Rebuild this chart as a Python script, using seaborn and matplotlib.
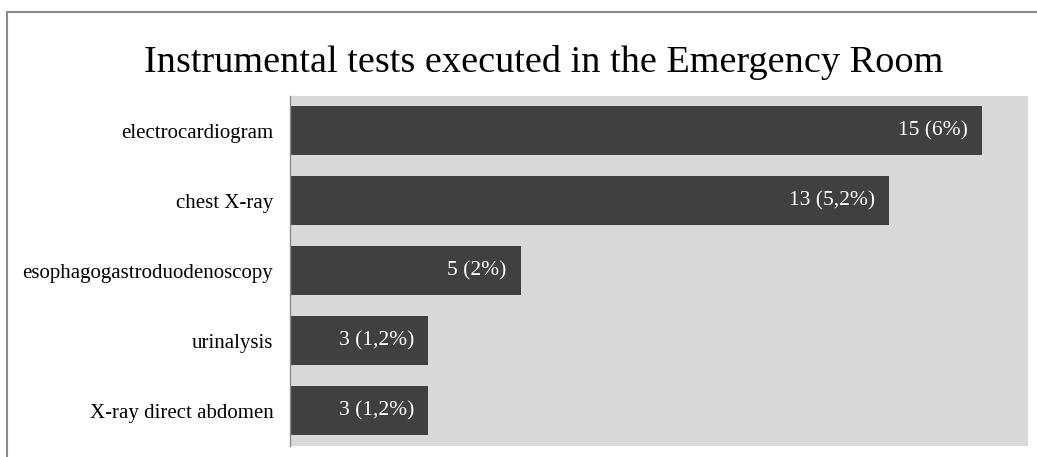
import matplotlib
matplotlib.use("Agg")
import matplotlib.pyplot as plt
import seaborn as sns
import pandas as pd
from matplotlib.patches import Rectangle

categories = ["electrocardiogram", "chest X-ray", "esophagogastroduodenoscopy",
              "urinalysis", "X-ray direct abdomen"]
counts = [15, 13, 5, 3, 3]
bar_labels = ["15 (6%)", "13 (5,2%)", "5 (2%)", "3 (1,2%)", "3 (1,2%)"]
title = "Instrumental tests executed in the Emergency Room"

sns.set_theme(style="white")
plt.rcParams["font.family"] = ["Liberation Serif", "DejaVu Serif"]
plt.rcParams["text.color"] = "black"

df = pd.DataFrame({"test": categories, "count": counts})

fig = plt.figure(figsize=(10.37, 4.57), dpi=100)
ax = fig.add_axes([290/1037, 11.3/457, (1027.7-290)/1037, (445.7-96)/457])
ax.set_facecolor("#d9d9d9")

sns.barplot(data=df, y="test", x="count", orient="h", color="#404040",
            saturation=1, width=0.7, linewidth=0, edgecolor="none", ax=ax)

for p, lab in zip(ax.patches, bar_labels):
    ax.annotate(lab, (p.get_x() + p.get_width(), p.get_y() + p.get_height()/2),
                xytext=(-10, 0), textcoords="offset points",
                ha="right", va="center", color="white", fontsize=15.5)

ax.set_xlim(0, 16)
ax.set_ylim(4.5, -0.5)
ax.set_xlabel("")
ax.set_ylabel("")
ax.set_xticks([])
ax.tick_params(axis="y", length=0, pad=12, labelsize=15, labelcolor="black")
for s in ["top", "right", "bottom"]:
    ax.spines[s].set_visible(False)
ax.spines["left"].set_color("#8c8c8c")
ax.spines["left"].set_linewidth(1)

fig.text(544/1037, 1 - 72/457, title, ha="center", va="baseline", fontsize=27.5,
         color="black")

border = Rectangle((7/1037, -0.1), 1.2, 1 - 12/457 + 0.1, transform=fig.transFigure,
                   fill=False, edgecolor="#8a8a8a", linewidth=1.5)
fig.patches.append(border)

fig.savefig("out.png", dpi=100, facecolor="white")
